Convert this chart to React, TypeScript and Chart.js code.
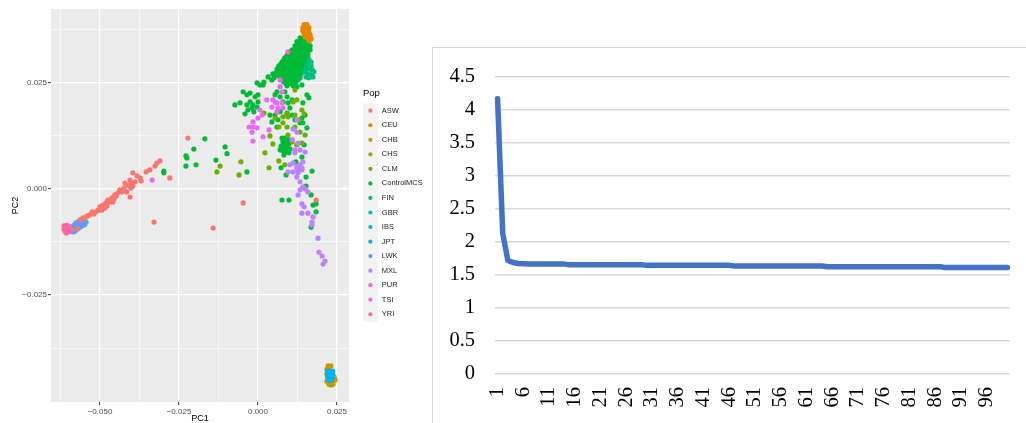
import React, { useEffect, useRef } from "react";
import { Chart, registerables } from "chart.js";
Chart.register(...registerables);

// ---------- Left panel: PCA scatter ----------
const POPS = ["ASW", "CEU", "CHB", "CHS", "CLM", "ControlMCS", "FIN", "GBR", "IBS", "JPT", "LWK", "MXL", "PUR", "TSI", "YRI"];
const POP_COLORS = ["#F8766D", "#E58700", "#C99800", "#A3A500", "#6BB100", "#00BA38", "#00BF7D", "#00C0AF", "#00BCD8", "#00B0F6", "#619CFF", "#B983FF", "#E76BF3", "#FD61D1", "#FF67A4"];
// lower = drawn on top
const POP_Z = [0, 1, 4, 5, 9, 10, 2, 13, 14, 3, 12, 8, 7, 6, 11];

const ASW = [
  [-0.0222, 0.012], [-0.031, 0.0066], [-0.032, 0.0061], [-0.0326, 0.0054], [-0.0279, 0.0026], [-0.0354, 0.004],
  [-0.0396, 0.0038], [-0.0373, 0.0026], [-0.037, 0.0019], [-0.0405, 0.0021], [-0.0399, 0.0014], [-0.0389, 0.0017],
  [-0.0411, 0.0009], [-0.0421, 0.0014], [-0.0396, 0.0007], [-0.0437, -0.0002], [-0.0443, -0.0009], [-0.043, -0.0007],
  [-0.0415, -0.0007], [-0.0405, -0.0019], [-0.0453, -0.0014], [-0.0462, -0.0021], [-0.0468, -0.0031], [-0.0475, -0.0026],
  [-0.0481, -0.0033], [-0.0491, -0.0038], [-0.05, -0.0042], [-0.0506, -0.005], [-0.0494, -0.005], [-0.0513, -0.0054],
  [-0.0525, -0.0054], [-0.0532, -0.0061], [-0.0544, -0.0066], [-0.0554, -0.0068], [-0.0563, -0.0073], [-0.0459, -0.0031],
  [-0.0484, -0.0045], [-0.0329, -0.0078], [-0.0142, -0.0092], [-0.0047, -0.0033], [0.0184, -0.0026], [-0.0573, -0.0094],
  [-0.0522, -0.0057], [-0.0538, -0.0063], [-0.0449, -0.0017], [-0.0424, 0.0002], [-0.0383, 0.0031], [-0.0519, -0.0059],
  [-0.0478, -0.004], [-0.0342, 0.0045], [-0.0402, 0.0002], [-0.0456, -0.0024],
];
const CEU = [
  [0.0146, 0.0387], [0.0155, 0.0387], [0.0142, 0.038], [0.0152, 0.038], [0.0161, 0.038], [0.0142, 0.0373],
  [0.0152, 0.0373], [0.0161, 0.037], [0.0146, 0.0365], [0.0155, 0.0365], [0.0165, 0.0363], [0.0149, 0.0358],
  [0.0158, 0.0356], [0.0168, 0.0354], [0.0161, 0.0349],
];
const CHB = [
  [0.0222, -0.0417], [0.0231, -0.0417], [0.0225, -0.0422], [0.0218, -0.0425], [0.0241, -0.0443], [0.0244, -0.045],
  [0.0237, -0.0455], [0.0228, -0.0457], [0.0218, -0.0453], [0.0218, -0.0436],
];
const CHS = [[0.0231, -0.0462], [0.0237, -0.046], [0.0225, -0.046]];
const CLM = [
  [0.0019, 0.0179], [0.0054, 0.0167], [0.0066, 0.0146], [0.0095, 0.017], [0.0117, 0.0174], [0.0038, 0.0125],
  [0.0047, 0.0106], [0.0022, 0.0085], [-0.0054, 0.0064], [-0.006, 0.0033], [0.0035, 0.005], [0.0066, 0.0066],
  [0.0085, 0.0057], [0.0095, 0.0127], [0.0108, 0.0111], [0.0123, 0.0104], [0.0139, 0.0108], [0.0117, 0.0146],
  [0.0133, 0.0134], [0.0149, 0.0127], [0.013, 0.0163], [0.0146, 0.0177], [0.0079, 0.017], [0.0092, 0.0177],
  [0.0123, 0.021], [0.0117, 0.0233], [0.0139, 0.0186], [0.0092, 0.0146], [-0.013, 0.004], [-0.012, 0.0054],
  [0.0111, 0.0205], [0.0079, 0.0156],
];
const CONTROL_MCS = [
  [0.0133, 0.0356], [0.0146, 0.0356], [0.0158, 0.0356],
  [0.0139, 0.0351], [0.0152, 0.0351],
  [0.0123, 0.0347], [0.0136, 0.0347], [0.0149, 0.0347], [0.0161, 0.0347],
  [0.013, 0.0342], [0.0142, 0.0342], [0.0155, 0.0342],
  [0.0117, 0.0337], [0.013, 0.0337], [0.0142, 0.0337], [0.0155, 0.0337], [0.0165, 0.0337],
  [0.0123, 0.0332], [0.0136, 0.0332], [0.0149, 0.0332], [0.0161, 0.0332],
  [0.0108, 0.0328], [0.012, 0.0328], [0.0133, 0.0328], [0.0146, 0.0328], [0.0158, 0.0328], [0.0165, 0.0328],
  [0.0101, 0.0323], [0.0114, 0.0323], [0.0127, 0.0323], [0.0139, 0.0323], [0.0152, 0.0323],
  [0.0095, 0.0318], [0.0108, 0.0318], [0.012, 0.0318], [0.0133, 0.0318], [0.0146, 0.0318], [0.0158, 0.0318],
  [0.0092, 0.0314], [0.0104, 0.0314], [0.0117, 0.0314], [0.013, 0.0314], [0.0142, 0.0314], [0.0155, 0.0314],
  [0.0085, 0.0309], [0.0098, 0.0309], [0.0111, 0.0309], [0.0123, 0.0309], [0.0136, 0.0309], [0.0149, 0.0309], [0.0158, 0.0309],
  [0.0082, 0.0304], [0.0095, 0.0304], [0.0108, 0.0304], [0.012, 0.0304], [0.0133, 0.0304], [0.0146, 0.0304],
  [0.0076, 0.0299], [0.0089, 0.0299], [0.0101, 0.0299], [0.0114, 0.0299], [0.0127, 0.0299], [0.0139, 0.0299], [0.0152, 0.0299],
  [0.0073, 0.0295], [0.0085, 0.0295], [0.0098, 0.0295], [0.0111, 0.0295], [0.0123, 0.0295], [0.0136, 0.0295], [0.0149, 0.0295],
  [0.0066, 0.029], [0.0079, 0.029], [0.0092, 0.029], [0.0104, 0.029], [0.0117, 0.029], [0.013, 0.029], [0.0142, 0.029], [0.0152, 0.029],
  [0.0063, 0.0285], [0.0076, 0.0285], [0.0089, 0.0285], [0.0101, 0.0285], [0.0114, 0.0285], [0.0127, 0.0285], [0.0139, 0.0285],
  [0.006, 0.0281], [0.0073, 0.0281], [0.0085, 0.0281], [0.0098, 0.0281], [0.0111, 0.0281], [0.0123, 0.0281], [0.0136, 0.0281], [0.0149, 0.0281],
  [0.0066, 0.0276], [0.0079, 0.0276], [0.0092, 0.0276], [0.0104, 0.0276], [0.0117, 0.0276], [0.013, 0.0276], [0.0142, 0.0276],
  [0.006, 0.0271], [0.0073, 0.0271], [0.0085, 0.0271], [0.0098, 0.0271], [0.0111, 0.0271], [0.0123, 0.0271], [0.0136, 0.0271],
  [0.0066, 0.0266], [0.0079, 0.0266], [0.0092, 0.0266], [0.0104, 0.0266], [0.0117, 0.0266], [0.013, 0.0266],
  [0.007, 0.0262], [0.0082, 0.0262], [0.0095, 0.0262], [0.0108, 0.0262], [0.012, 0.0262], [0.0133, 0.0262],
  [0.0076, 0.0257], [0.0089, 0.0257], [0.0101, 0.0257], [0.0114, 0.0257], [0.0127, 0.0257],
  [0.0082, 0.0252], [0.0095, 0.0252], [0.0108, 0.0252], [0.012, 0.0252],
  [0.0089, 0.0248], [0.0101, 0.0248], [0.0114, 0.0248],
  [0.0092, 0.0243], [0.0111, 0.0243], [0.0047, 0.0271], [0.0051, 0.0262],
  [-0.0073, 0.0198], [-0.0057, 0.0203], [-0.0047, 0.0229], [-0.0035, 0.0222], [-0.0025, 0.0226], [-0.0009, 0.0217],
  [0.0, 0.0222], [0.0006, 0.0245], [-0.0003, 0.025], [0.0016, 0.0245], [0.0032, 0.0264], [0.0019, 0.0252],
  [0.0044, 0.0257], [0.0054, 0.0271], [0.0063, 0.0276], [-0.0035, 0.0198], [-0.0025, 0.0205], [-0.0016, 0.0198],
  [-0.0032, 0.0186], [-0.0019, 0.0191], [-0.0003, 0.0193], [0.0, 0.0205], [-0.0041, 0.0177], [-0.0013, 0.0182],
  [0.0054, 0.0222], [0.006, 0.0229], [0.007, 0.0217], [0.0085, 0.0229], [0.0092, 0.0217], [0.0079, 0.0205],
  [0.0095, 0.0203], [0.0108, 0.021], [0.0123, 0.0241], [0.0139, 0.0245], [0.0155, 0.0222], [0.0101, 0.0191],
  [0.0092, 0.0179], [0.007, 0.0182], [0.0054, 0.0174], [0.0044, 0.0158], [0.0063, 0.0163], [0.0108, 0.0174],
  [0.0117, 0.0163], [0.0139, 0.0167], [0.0149, 0.0174], [0.0133, 0.0156], [0.0038, 0.0174], [0.006, 0.0146],
  [0.0142, 0.0203], [0.0161, 0.0215],
  [0.0076, 0.012], [0.0085, 0.012], [0.0095, 0.0116], [0.0079, 0.0111], [0.0089, 0.0108], [0.0098, 0.0106],
  [0.0073, 0.0101], [0.0082, 0.0099], [0.0092, 0.0097], [0.0101, 0.0094], [0.0079, 0.009], [0.0089, 0.0087],
  [0.0098, 0.0085], [0.0082, 0.008], [0.007, 0.0092],
  [0.0146, 0.0104], [0.012, 0.0064], [0.0139, 0.0075], [0.0089, 0.0033], [0.0073, 0.005], [0.0155, 0.0144],
  [0.0142, 0.0156], [0.0171, 0.0042], [0.0152, 0.0028], [0.0152, 0.0007], [0.0168, -0.0014], [0.0184, -0.0035],
  [0.0184, -0.0054], [0.0168, -0.009], [0.0076, -0.0026], [0.0098, -0.0026], [0.0174, -0.0038],
  [-0.0168, 0.0118], [-0.0203, 0.0094], [-0.0228, 0.0078], [-0.0225, 0.0073], [-0.0228, 0.0054], [-0.0196, 0.0057],
  [-0.0104, 0.0099], [-0.0098, 0.0083], [-0.0133, 0.0068], [-0.0298, 0.0042], [-0.0298, 0.0038], [-0.0035, 0.004],
];
const FIN = [
  [0.0161, 0.0304], [0.0168, 0.0299], [0.0158, 0.0295], [0.0168, 0.029], [0.0152, 0.0285], [0.0161, 0.0283],
  [0.0171, 0.0281], [0.0177, 0.0276], [0.0149, 0.0276], [0.0158, 0.0271], [0.0168, 0.0269], [0.0174, 0.0264],
  [0.0152, 0.0264], [0.0161, 0.0262],
];
const GBR = [[0.0142, 0.0337], [0.0146, 0.0318], [0.0127, 0.0299]];
const IBS = [[0.0117, 0.029], [0.0111, 0.0281], [0.0139, 0.0299]];
const JPT = [
  [0.022, -0.0429], [0.0228, -0.0429], [0.0236, -0.0429], [0.022, -0.0436], [0.0228, -0.0436], [0.0236, -0.0436],
  [0.022, -0.0443], [0.0228, -0.0443], [0.0236, -0.0443], [0.0224, -0.045], [0.0232, -0.045],
];
const LWK = [
  [-0.0595, -0.0094], [-0.0589, -0.009], [-0.0582, -0.0085], [-0.0576, -0.008], [-0.057, -0.0078], [-0.0563, -0.0075],
  [-0.0557, -0.0073], [-0.0551, -0.0075], [-0.0544, -0.0078], [-0.0592, -0.0099], [-0.0586, -0.0097], [-0.0579, -0.0092],
  [-0.0573, -0.0087], [-0.0567, -0.0085], [-0.056, -0.0083], [-0.0554, -0.008], [-0.0548, -0.0083], [-0.0582, -0.0101],
  [-0.0576, -0.0097], [-0.057, -0.0094], [-0.0563, -0.009], [-0.0557, -0.0087], [-0.0551, -0.0085], [-0.0589, -0.0101],
];
const MXL = [
  [0.0123, 0.0163], [0.0111, 0.0141], [0.0123, 0.0134], [0.0108, 0.0116], [0.0127, 0.0108], [0.0117, 0.0092],
  [0.0133, 0.0092], [0.0149, 0.0087], [0.0117, 0.0085], [0.0142, 0.0064], [0.0101, 0.0057], [0.0123, 0.005],
  [0.0139, 0.0045], [0.0127, 0.0038], [0.0111, 0.004], [0.0095, 0.004], [0.0123, 0.0028], [0.0133, 0.0017],
  [0.0142, 0.0005], [0.0133, -0.0002], [0.0149, 0.0], [0.0158, -0.0007], [0.0127, -0.0014], [0.0139, -0.0035],
  [0.0146, -0.0042], [0.0139, -0.0057], [0.0158, -0.0057], [0.0174, -0.0066], [0.0171, -0.0078], [0.0171, -0.0085],
  [0.019, -0.0116], [0.0193, -0.0149], [0.0203, -0.0158], [0.0212, -0.017], [0.0206, -0.0177], [0.0111, 0.0061],
  [0.0123, 0.0052], [0.0133, 0.0057], [0.0127, 0.0045], [0.0139, 0.005],
];
const PUR = [
  [0.007, 0.0257], [0.0047, 0.021], [0.006, 0.0203], [0.0028, 0.021], [0.0044, 0.0193], [0.0063, 0.0191],
  [0.0006, 0.0186], [0.0, 0.0167], [-0.0016, 0.0146], [-0.0019, 0.0134], [0.0016, 0.0123], [-0.0016, 0.0113],
  [-0.0003, 0.0144], [-0.0028, 0.0146], [-0.0016, 0.0158], [0.0013, 0.0174], [0.0035, 0.0139], [0.006, 0.0182],
  [0.0054, 0.0205], [0.0076, 0.0203], [0.0079, 0.0191], [0.007, 0.0241], [0.0076, 0.0229], [-0.0335, 0.0021],
];
const TSI = [[0.0095, 0.0323]];
const YRI = [
  [-0.0614, -0.0087], [-0.0611, -0.0092], [-0.0608, -0.0097], [-0.0614, -0.0095], [-0.0605, -0.0086], [-0.0602, -0.009],
  [-0.0599, -0.0094], [-0.0596, -0.0099], [-0.061, -0.0101], [-0.0602, -0.0101], [-0.0595, -0.0092], [-0.0592, -0.0097],
  [-0.0606, -0.0104], [-0.0611, -0.0088], [-0.0608, -0.009], [-0.0598, -0.0088],
];
const POP_DATA = [ASW, CEU, CHB, CHS, CLM, CONTROL_MCS, FIN, GBR, IBS, JPT, LWK, MXL, PUR, TSI, YRI];

const PC1_GRID = [-0.0625, -0.05, -0.0375, -0.025, -0.0125, 0, 0.0125, 0.025];
const PC1_LABELS = ["", "\u22120.050", "", "\u22120.025", "", "0.000", "", "0.025"];
const PC2_GRID = [-0.0375, -0.025, -0.0125, 0, 0.0125, 0.025, 0.0375];
const PC2_LABELS = ["", "\u22120.025", "", "0.000", "", "0.025", ""];

// ---------- Right panel: line ----------
const CATEGORIES = Array.from({ length: 100 }, (_, i) => String(i + 1));
const VALUES = [
  4.17, 2.13, 1.72, 1.69, 1.675, 1.67,
  1.665, 1.665, 1.665, 1.665, 1.665, 1.665, 1.665, 1.665,
  1.656, 1.656, 1.656, 1.656, 1.656, 1.656, 1.656, 1.656, 1.656, 1.656, 1.656, 1.656, 1.656, 1.656, 1.656,
  1.646, 1.646, 1.646, 1.646, 1.646, 1.646, 1.646, 1.646, 1.646, 1.646, 1.646, 1.646, 1.646, 1.646, 1.646, 1.646, 1.646,
  1.636, 1.636, 1.636, 1.636, 1.636, 1.636, 1.636, 1.636, 1.636, 1.636, 1.636, 1.636, 1.636, 1.636, 1.636, 1.636, 1.636, 1.636,
  1.626, 1.626, 1.626, 1.626, 1.626, 1.626, 1.626, 1.626, 1.626, 1.626, 1.626, 1.626, 1.626, 1.626, 1.626, 1.626, 1.626, 1.626, 1.626, 1.626, 1.626, 1.626, 1.626,
  1.612, 1.612, 1.612, 1.612, 1.612, 1.612, 1.612, 1.612, 1.612, 1.612, 1.612, 1.612, 1.612,
];
const Y_TICKS = ["0", "0.5", "1", "1.5", "2", "2.5", "3", "3.5", "4", "4.5"];

const SANS = "'Liberation Sans', Arial, Helvetica, sans-serif";
const SERIF = "'Liberation Serif', 'Times New Roman', serif";

const panelBg = {
  id: "panelBg",
  beforeDraw(chart: any) {
    const { ctx, chartArea: a } = chart;
    ctx.save();
    ctx.fillStyle = "#EBEBEB";
    ctx.fillRect(a.left, a.top, a.right - a.left, a.bottom - a.top);
    ctx.restore();
  },
};

const popLegend = {
  id: "popLegend",
  afterDraw(chart: any) {
    const ctx = chart.ctx;
    const a = chart.chartArea;
    const x0 = a.right + 14;
    const top = 110.7;
    const step = 14.54;
    ctx.save();
    ctx.textAlign = "left";
    ctx.textBaseline = "middle";
    ctx.fillStyle = "#000";
    ctx.font = `9.5px ${SANS}`;
    ctx.fillText("Pop", x0, 93.5);
    ctx.fillStyle = "#F2F2F2";
    ctx.fillRect(x0, top - step / 2, 15, step * POPS.length);
    POPS.forEach((p, i) => {
      const y = top + i * step;
      ctx.beginPath();
      ctx.arc(x0 + 7.4, y, 2.1, 0, Math.PI * 2);
      ctx.fillStyle = POP_COLORS[i];
      ctx.fill();
      ctx.fillStyle = "#1a1a1a";
      ctx.font = `7.5px ${SANS}`;
      ctx.fillText(p, x0 + 18.8, y);
    });
    ctx.restore();
  },
};

const isMajor = (labels: string[], i: number) => !!labels[i];

export default function App() {
  const leftRef = useRef<HTMLCanvasElement>(null);
  const rightRef = useRef<HTMLCanvasElement>(null);

  useEffect(() => {
    const scatter = new Chart(leftRef.current as HTMLCanvasElement, {
      type: "scatter",
      data: {
        datasets: POPS.map((p, i) => ({
          label: p,
          data: POP_DATA[i] as any,
          backgroundColor: POP_COLORS[i],
          borderWidth: 0,
          pointRadius: 2.6,
          pointHoverRadius: 2.6,
          order: POP_Z[i],
        })),
      },
      options: {
        animation: false,
        responsive: false,
        maintainAspectRatio: false,
        layout: { padding: { left: 0, right: 83, top: 9, bottom: 0 } },
        plugins: { legend: { display: false }, tooltip: { enabled: false } },
        scales: {
          x: {
            type: "linear",
            min: -0.0655,
            max: 0.0288,
            afterBuildTicks: (s: any) => {
              s.ticks = PC1_GRID.map((v) => ({ value: v }));
            },
            afterFit: (s: any) => {
              s.height = 21;
              s.paddingLeft = 0;
              s.paddingRight = 0;
            },
            border: { display: false },
            grid: {
              color: "#FFFFFF",
              lineWidth: (c: any) => (isMajor(PC1_LABELS, c.index) ? 1.2 : 0.6),
              tickColor: (c: any) => (isMajor(PC1_LABELS, c.index) ? "#333333" : "rgba(0,0,0,0)"),
              tickLength: 3,
              tickWidth: 1,
            },
            ticks: {
              autoSkip: false,
              maxRotation: 0,
              padding: 1.5,
              color: "#4D4D4D",
              font: { family: SANS, size: 8 },
              callback: (_v: any, i: number) => PC1_LABELS[i],
            },
            title: {
              display: true,
              text: "PC1",
              color: "#000",
              font: { family: SANS, size: 9, lineHeight: 1 },
              padding: { top: 0, bottom: 0 },
            },
          },
          y: {
            type: "linear",
            min: -0.0502,
            max: 0.0424,
            afterBuildTicks: (s: any) => {
              s.ticks = PC2_GRID.map((v) => ({ value: v }));
            },
            afterFit: (s: any) => {
              s.width = 51;
              s.paddingTop = 0;
              s.paddingBottom = 0;
            },
            border: { display: false },
            grid: {
              color: "#FFFFFF",
              lineWidth: (c: any) => (isMajor(PC2_LABELS, c.index) ? 1.2 : 0.6),
              tickColor: (c: any) => (isMajor(PC2_LABELS, c.index) ? "#333333" : "rgba(0,0,0,0)"),
              tickLength: 3,
              tickWidth: 1,
            },
            ticks: {
              autoSkip: false,
              padding: 1,
              color: "#4D4D4D",
              font: { family: SANS, size: 8 },
              callback: (_v: any, i: number) => PC2_LABELS[i],
            },
            title: {
              display: true,
              text: "PC2",
              color: "#000",
              font: { family: SANS, size: 9, lineHeight: 1 },
              padding: { top: 11, bottom: 0 },
            },
          },
        },
      },
      plugins: [panelBg, popLegend],
    } as any);

    const line = new Chart(rightRef.current as HTMLCanvasElement, {
      type: "line",
      data: {
        labels: CATEGORIES,
        datasets: [
          {
            data: VALUES,
            borderColor: "#4472C4",
            backgroundColor: "#4472C4",
            borderWidth: 5.5,
            borderCapStyle: "round",
            borderJoinStyle: "round",
            pointRadius: 0,
            pointHoverRadius: 0,
            tension: 0,
            fill: false,
          },
        ],
      },
      options: {
        animation: false,
        responsive: false,
        maintainAspectRatio: false,
        layout: { padding: { left: 0, right: 16, top: 29, bottom: 0 } },
        plugins: { legend: { display: false }, tooltip: { enabled: false } },
        scales: {
          x: {
            type: "category",
            offset: true,
            border: { display: false },
            grid: { display: false, drawTicks: false },
            afterFit: (s: any) => {
              s.height = 49;
              s.paddingLeft = 0;
              s.paddingRight = 0;
            },
            ticks: {
              autoSkip: false,
              minRotation: 90,
              maxRotation: 90,
              padding: 13,
              color: "#000",
              font: { family: SERIF, size: 20.5 },
              callback: (_v: any, i: number) => (i % 5 === 0 ? CATEGORIES[i] : ""),
            },
          },
          y: {
            type: "linear",
            min: 0,
            max: 4.5,
            border: { display: false },
            grid: { color: "#D9D9D9", lineWidth: 1.4, drawTicks: false },
            afterFit: (s: any) => {
              s.width = 62;
              s.paddingTop = 0;
              s.paddingBottom = 0;
            },
            ticks: {
              stepSize: 0.5,
              padding: 20,
              color: "#000",
              font: { family: SERIF, size: 20.5 },
              callback: (_v: any, i: number) => Y_TICKS[i],
            },
          },
        },
      },
    } as any);

    return () => {
      scatter.destroy();
      line.destroy();
    };
  }, []);

  return (
    <div style={{ position: "absolute", left: 0, top: 0, width: 1026, height: 423, background: "#fff", overflow: "hidden" }}>
      <canvas ref={leftRef} width={432} height={423} style={{ position: "absolute", left: 0, top: 0, display: "block" }} />
      <div
        style={{
          position: "absolute",
          left: 432,
          top: 47,
          width: 594,
          height: 376,
          borderTop: "1px solid #D9D9D9",
          borderLeft: "1px solid #D9D9D9",
          boxSizing: "border-box",
        }}
      >
        <canvas ref={rightRef} width={593} height={375} style={{ position: "absolute", left: 0, top: 0, display: "block" }} />
      </div>
    </div>
  );
}
